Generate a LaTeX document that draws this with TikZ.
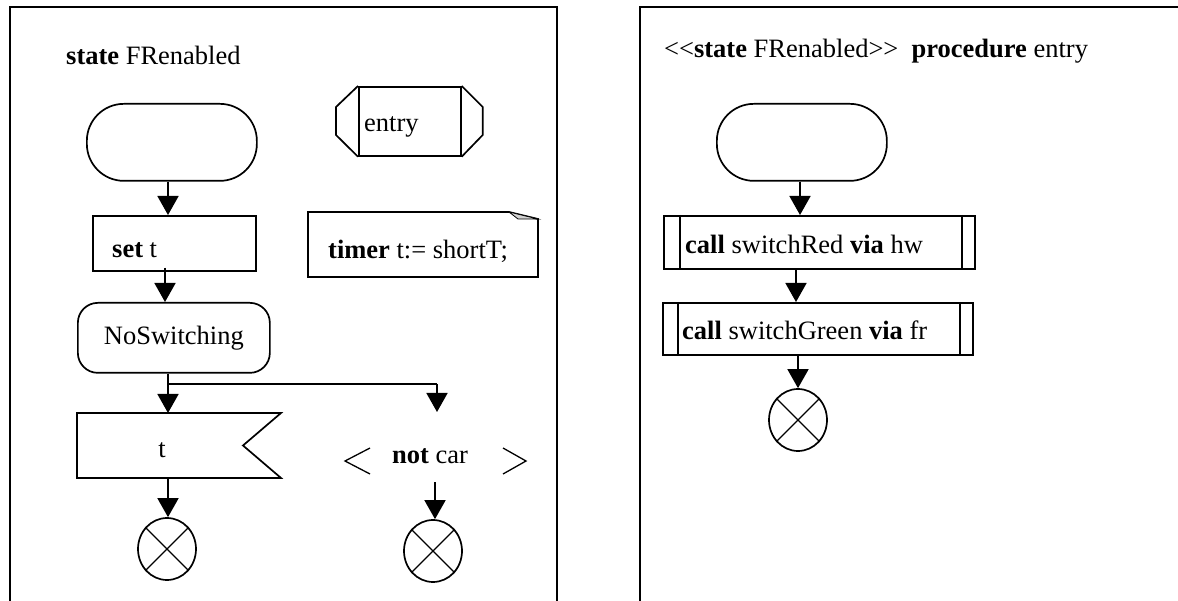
\documentclass[tikz,border=0pt]{standalone}
\usepackage{fontspec}
\setmainfont{Liberation Serif}
\usetikzlibrary{arrows.meta,shapes.geometric,calc}
\begin{document}
\begin{tikzpicture}[x=1pt,y=-1pt,
  font=\fontsize{26.5}{31}\selectfont,
  frame/.style={line width=2pt},
  symbol/.style={draw, line width=1.7pt, inner sep=0pt},
  outline/.style={line width=1.7pt, line join=miter},
  ghost/.style={inner sep=0pt, outer sep=0pt},
  txt/.style={inner sep=0pt, anchor=base west},
  arr/.style={line width=1.7pt, -{Triangle[length=19pt,width=21pt]}},
  stopsym/.style={symbol, ellipse, minimum width=58pt, minimum height=62pt},
  cross/.style={line width=1.3pt},
  bracket/.style={line width=1.3pt},
]
\useasboundingbox (0,0) rectangle (1178,601);

% ---------- state FRenabled ----------
\draw[frame] (10,601) -- (10,7.5) -- (557,7.5) -- (557,601);
\node[txt] (ltitle) at (66,65) {\textbf{state} FRenabled};

% start symbol
\node[symbol, rounded corners=37pt, minimum width=170pt, minimum height=77pt,
      anchor=north west] (lstart) at (86,103) {};

% entry procedure reference
\node[symbol, minimum width=102pt, minimum height=69pt, anchor=north west]
  (entry) at (358,86) {};
\draw[outline] (entry.north west) -- ++(-22,21) -- ++(0,28) -- (entry.south west);
\draw[outline] (entry.north east) -- ++(21,21) -- ++(0,28) -- (entry.south east);
\node[txt] (entrytxt) at (364,132) {entry};

% set t
\node[symbol, minimum width=163pt, minimum height=55pt, anchor=north west]
  (setbox) at (92,215) {};
\node[txt] (settxt) at (112,258) {\textbf{set} t};

% text annotation with folded corner
\node[ghost, minimum width=230pt, minimum height=65pt, anchor=north west]
  (note) at (308,212) {};
\coordinate (foldA) at ($(note.north east)+(-29,0)$);
\coordinate (foldB) at ($(note.north east)+(0,7)$);
\coordinate (foldC) at ($(note.north east)+(-20,7)$);
\draw[outline] (note.north west) -- (foldA) -- (foldB) -- (note.south east)
  -- (note.south west) -- cycle;
\draw[line width=0.8pt, fill=gray!35] (foldA) -- (foldC) -- (foldB) -- cycle;
\node[txt] (notetxt) at (328,259) {\textbf{timer} t:= shortT;};

% NoSwitching state
\node[symbol, rounded corners=20pt, minimum width=192pt, minimum height=70pt,
      anchor=north west] (nosw) at (77,302) {NoSwitching};

% input signal t
\node[ghost, minimum width=204pt, minimum height=65pt, anchor=north west]
  (sig) at (77,413) {};
\draw[outline] (sig.north west) -- (sig.north east) -- ($(sig.east)+(-38,0)$)
  -- (sig.south east) -- (sig.south west) -- cycle;
\node[txt, anchor=base] (sigtxt) at (162,457) {t};

% continuous signal
\node[txt, anchor=base] (cond) at (430,463) {\textbf{not} car};
\draw[bracket] (370,448) -- (345,461) -- (370,474);
\draw[bracket] (503,448) -- (526,461) -- (503,474);

% stop symbols
\node[stopsym] (stopA) at (167,549) {};
\draw[cross] (stopA.45) -- (stopA.225) (stopA.135) -- (stopA.315);
\node[stopsym] (stopB) at (433,551) {};
\draw[cross] (stopB.45) -- (stopB.225) (stopB.135) -- (stopB.315);

% flow lines
\coordinate (colA) at (168,0);
\coordinate (colB) at (165,0);
\coordinate (j1) at (168,384);
\coordinate (j2) at (437,384);
\coordinate (condin) at (437,412);
\coordinate (condout) at (435,482);
\draw[arr] (lstart.south -| colA) -- (setbox.north -| colA);
\draw[arr] ($(setbox.south -| colB)+(0,-4)$) -- (nosw.north -| colB);
\draw[outline] (nosw.south -| j1) -- (j1) -- (j2);
\draw[arr] (j1) -- (sig.north -| j1);
\draw[arr] (j2) -- (condin);
\draw[arr] (sig.south -| colA) -- (stopA.north -| colA);
\draw[arr] (condout) -- (stopB.north -| condout);

% ---------- procedure entry ----------
\draw[frame] (640,601) -- (640,7.5) -- (1178,7.5);
\node[txt] (rtitle) at (664,58)
  {<\kern0pt<\textbf{state} FRenabled>\kern0pt>\hspace{0.5em}\textbf{procedure} entry};

\node[symbol, rounded corners=37pt, minimum width=170pt, minimum height=77pt,
      anchor=north west] (rstart) at (716,103) {};

% procedure calls
\node[symbol, minimum width=311pt, minimum height=53pt, anchor=north west]
  (call1) at (663,215) {};
\draw[outline] ($(call1.north west)+(17,0)$) -- ($(call1.south west)+(17,0)$)
  ($(call1.north east)+(-14,0)$) -- ($(call1.south east)+(-14,0)$);
\node[txt] (call1txt) at (685,254) {\textbf{call} switchRed \textbf{via} hw};

\node[symbol, minimum width=310pt, minimum height=52pt, anchor=north west]
  (call2) at (662,302) {};
\draw[outline] ($(call2.north west)+(16,0)$) -- ($(call2.south west)+(16,0)$)
  ($(call2.north east)+(-14,0)$) -- ($(call2.south east)+(-14,0)$);
\node[txt] (call2txt) at (682,340) {\textbf{call} switchGreen \textbf{via} fr};

\node[stopsym] (stopC) at (798,420) {};
\draw[cross] (stopC.45) -- (stopC.225) (stopC.135) -- (stopC.315);

\coordinate (colD) at (800,0);
\coordinate (colE) at (796,0);
\coordinate (colF) at (798,0);
\draw[arr] (rstart.south -| colD) -- (call1.north -| colD);
\draw[arr] (call1.south -| colE) -- (call2.north -| colE);
\draw[arr] (call2.south -| colF) -- (stopC.north -| colF);
\end{tikzpicture}
\end{document}
